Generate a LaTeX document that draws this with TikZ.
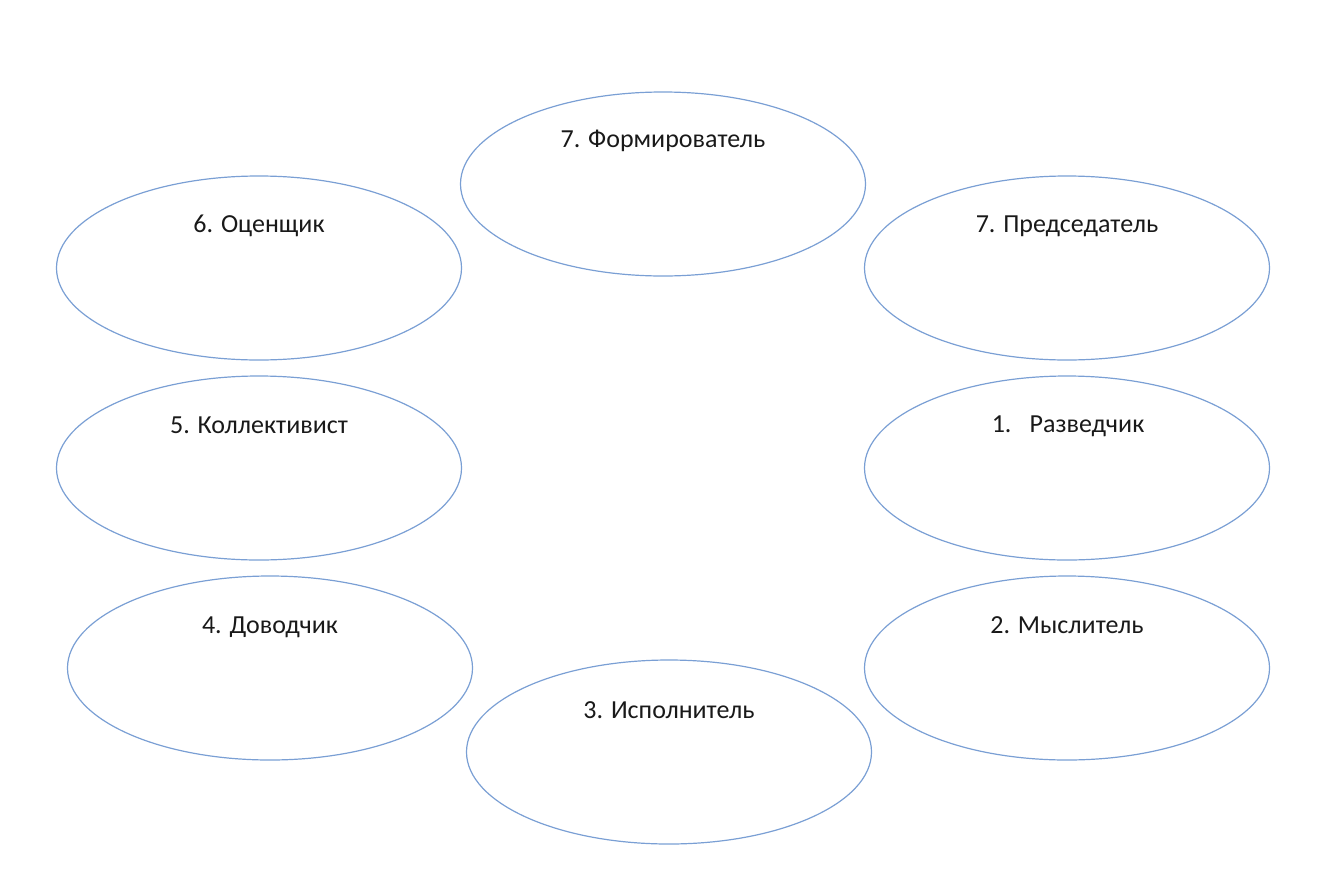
\documentclass[tikz,border=0pt]{standalone}
\usepackage{fontspec}
\setmainfont{Carlito}
\usetikzlibrary{shapes.geometric}
\definecolor{ovalblue}{HTML}{7A9FD4}
\tikzset{
  oval/.style={draw=ovalblue, line width=1.2pt, ellipse, minimum width=405pt, minimum height=184pt, inner sep=0pt},
  lab/.style={font=\fontsize{26}{30}\selectfont, text=black!90, inner sep=0pt, anchor=center}
}
\begin{document}
\begin{tikzpicture}[x=1pt,y=-1pt]
\useasboundingbox (0,0) rectangle (1340,894);
\node[oval] (form) at (663,184) {};
\node[oval] (otsen) at (259,268) {};
\node[oval] (pred) at (1067,268) {};
\node[oval] (koll) at (259,468) {};
\node[oval] (razv) at (1067,468) {};
\node[oval] (dovod) at (270,668) {};
\node[oval] (mysl) at (1067,668) {};
\node[oval] (ispol) at (669,752) {};
\node[lab] (formt) at ([yshift=43pt]form.center) {7. Формирователь};
\node[lab] (otsent) at ([yshift=42pt]otsen.center) {6. Оценщик};
\node[lab] (predt) at ([yshift=42pt]pred.center) {7. Председатель};
\node[lab] (kollt) at ([yshift=43pt]koll.center) {5. Коллективист};
\node[lab] (razvt) at ([xshift=1pt,yshift=42pt]razv.center) {1.\hspace{0.7em}Разведчик};
\node[lab] (dovodt) at ([yshift=41pt]dovod.center) {4. Доводчик};
\node[lab] (myslt) at ([yshift=43pt]mysl.center) {2. Мыслитель};
\node[lab] (ispolt) at ([yshift=42pt]ispol.center) {3. Исполнитель};
\end{tikzpicture}
\end{document}
